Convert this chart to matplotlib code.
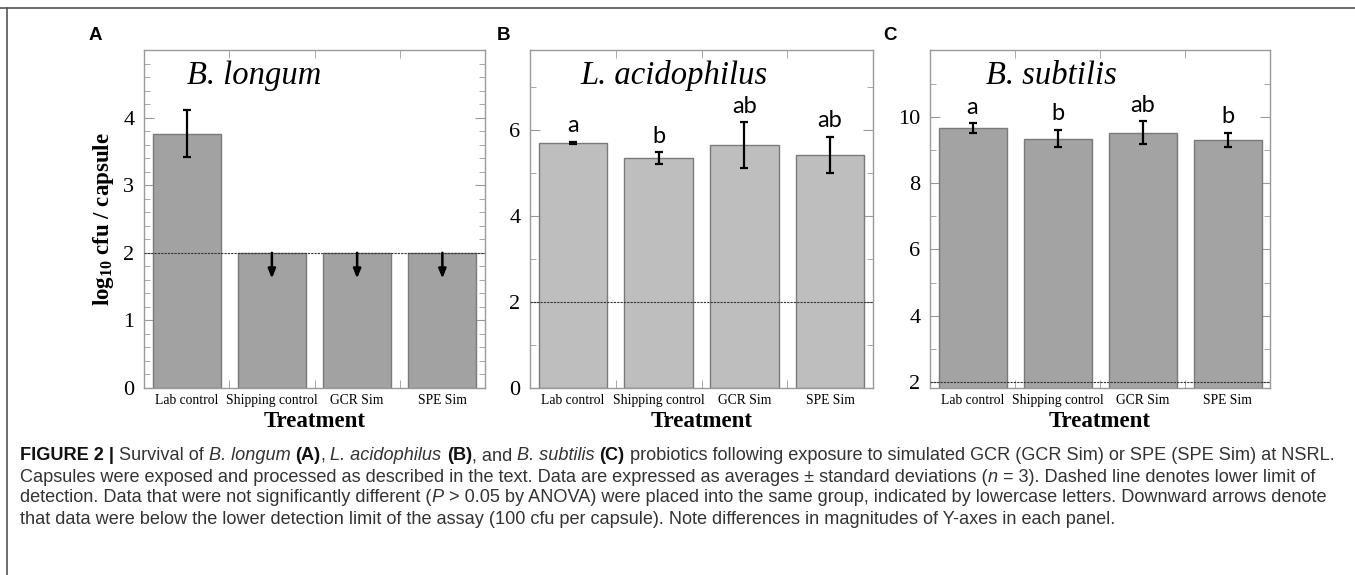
import matplotlib
matplotlib.use("Agg")
import matplotlib.pyplot as plt
from matplotlib.lines import Line2D
from matplotlib.ticker import FixedLocator

plt.rcParams["font.family"] = ["Liberation Serif", "DejaVu Serif"]
plt.rcParams["mathtext.fontset"] = "custom"
plt.rcParams["mathtext.rm"] = "Liberation Serif"
plt.rcParams["mathtext.bf"] = "Liberation Serif:bold"
plt.rcParams["mathtext.it"] = "Liberation Serif:italic"

# data
treatments = ["Lab control", "Shipping control", "GCR Sim", "SPE Sim"]
detect_limit = 2.0

longum_mean = [3.76, 2.0, 2.0, 2.0]
longum_sd = [0.35, 0.0, 0.0, 0.0]
longum_below = [False, True, True, True]
arrow_tip = 1.62

acid_mean = [5.70, 5.35, 5.65, 5.42]
acid_sd = [0.03, 0.13, 0.53, 0.42]
acid_letters = ["a", "b", "ab", "ab"]

subt_mean = [9.67, 9.34, 9.52, 9.30]
subt_sd = [0.14, 0.26, 0.35, 0.22]
subt_letters = ["a", "b", "ab", "b"]

W, H = 1355, 575
fig = plt.figure(figsize=(W / 100, H / 100), dpi=100)

spine_c = "#9a9a9a"


def setup_axes(ax, ylim, major, minor):
    ax.set_xlim(-0.5, 3.5)
    ax.set_ylim(*ylim)
    ax.set_xticks(range(len(treatments)))
    ax.set_xticklabels(treatments, fontsize=9.8)
    ax.xaxis.set_minor_locator(FixedLocator([0.5, 1.5, 2.5]))
    ax.yaxis.set_major_locator(FixedLocator(major))
    ax.yaxis.set_minor_locator(FixedLocator(minor))
    ax.tick_params(axis="x", which="major", length=0, pad=4)
    ax.tick_params(axis="x", which="minor", direction="in", length=6,
                   top=True, bottom=True, color=spine_c)
    ax.tick_params(axis="y", which="major", direction="in", length=7,
                   left=True, right=True, labelsize=16, pad=7, color=spine_c)
    ax.tick_params(axis="y", which="minor", direction="in", length=4,
                   left=True, right=True, color=spine_c)
    for s in ax.spines.values():
        s.set_color(spine_c)
        s.set_linewidth(1.0)
    ax.axhline(detect_limit, color="#333333", lw=0.8, ls=(0, (2, 1)), zorder=4)
    ax.set_xlabel("Treatment", fontsize=16.5, fontweight="bold", labelpad=3.5)


def draw_bars(ax, mean, sd, color):
    x = range(len(treatments))
    ax.bar(x, mean, width=0.8, color=color, edgecolor="#7a7a7a", lw=1.0, zorder=2)
    err = [(i, m, s) for i, (m, s) in enumerate(zip(mean, sd)) if s > 0]
    ax.errorbar([e[0] for e in err], [e[1] for e in err], yerr=[e[2] for e in err],
                fmt="none", ecolor="black", elinewidth=1.6, capsize=3.2,
                capthick=1.6, zorder=5)


def draw_letters(ax, mean, sd, letters):
    for i, (m, s, l) in enumerate(zip(mean, sd, letters)):
        ax.annotate(l, (i, m + s), xytext=(0, 7), textcoords="offset points",
                    ha="center", va="baseline", fontsize=17,
                    family=["Lato", "DejaVu Sans"], zorder=6)


def panel_title(ax, txt, x):
    ax.text(x, 0.925, txt, transform=ax.transAxes, fontsize=23.5,
            fontstyle="italic", ha="center", va="center")


# panel A
axA = fig.add_axes([144 / W, 1 - 388 / H, 341 / W, 338 / H])
setup_axes(axA, (0, 5), [0, 1, 2, 3, 4], [v / 5 for v in range(25)])
draw_bars(axA, longum_mean, longum_sd, "#a2a2a2")
for i, (m, b) in enumerate(zip(longum_mean, longum_below)):
    if b:
        axA.annotate("", xy=(i, arrow_tip), xytext=(i, m),
                     arrowprops=dict(arrowstyle="-|>,head_width=0.22,head_length=0.55",
                                     color="black", lw=1.8, shrinkA=0, shrinkB=0),
                     zorder=6)
panel_title(axA, "B. longum", 0.323)
axA.set_ylabel(r"$\mathbf{log_{10}}$ cfu / capsule", fontsize=16.5,
               fontweight="bold", labelpad=5)

# panel B
axB = fig.add_axes([530 / W, 1 - 388 / H, 343 / W, 338 / H])
setup_axes(axB, (0, 7.86), [0, 2, 4, 6], [1, 3, 5, 7])
draw_bars(axB, acid_mean, acid_sd, "#bebebe")
draw_letters(axB, acid_mean, acid_sd, acid_letters)
panel_title(axB, "L. acidophilus", 0.42)

# panel C
axC = fig.add_axes([930 / W, 1 - 388 / H, 340 / W, 338 / H])
setup_axes(axC, (1.82, 12.02), [2, 4, 6, 8, 10], [3, 5, 7, 9, 11])
draw_bars(axC, subt_mean, subt_sd, "#a3a3a3")
draw_letters(axC, subt_mean, subt_sd, subt_letters)
panel_title(axC, "B. subtilis", 0.358)

for lab, px in [("A", 95), ("B", 503), ("C", 890)]:
    fig.text(px / W, 1 - 35 / H, lab, fontsize=13.5, fontweight="bold",
             family=["Liberation Sans", "DejaVu Sans"], ha="center", va="center")

# outer frame (top and left edge)
fig.add_artist(Line2D([0, 1], [1 - 8 / H, 1 - 8 / H], transform=fig.transFigure,
                      color="#555555", lw=1.2))
fig.add_artist(Line2D([7 / W, 7 / W], [0, 1 - 8 / H], transform=fig.transFigure,
                      color="#555555", lw=1.2))

# caption
N, B, I = ("normal", "normal"), ("bold", "normal"), ("normal", "italic")
caption = [
    [("FIGURE 2 | ", B), ("Survival of ", N), ("B. longum", I), (" ", N), ("(A)", B),
     (", ", N), ("L. acidophilus", I), (" ", N), ("(B)", B), (", and ", N),
     ("B. subtilis", I), (" ", N), ("(C)", B),
     (" probiotics following exposure to simulated GCR (GCR Sim) or SPE (SPE Sim) at NSRL.", N)],
    [("Capsules were exposed and processed as described in the text. Data are expressed "
      "as averages \u00b1 standard deviations (", N), ("n", I),
     (" = 3). Dashed line denotes lower limit of", N)],
    [("detection. Data that were not significantly different (", N), ("P", I),
     (" > 0.05 by ANOVA) were placed into the same group, indicated by lowercase "
      "letters. Downward arrows denote", N)],
    [("that data were below the lower detection limit of the assay (100 cfu per "
      "capsule). Note differences in magnitudes of Y-axes in each panel.", N)],
]
cap_font = ["Liberation Sans", "DejaVu Sans"]
renderer = fig.canvas.get_renderer()


def run_width(txt, size, wt, st):
    t = fig.text(0, 0, txt + "|", fontsize=size, fontweight=wt, fontstyle=st,
                 family=cap_font)
    t2 = fig.text(0, 0, "|", fontsize=size, fontweight=wt, fontstyle=st,
                  family=cap_font)
    w = t.get_window_extent(renderer).width - t2.get_window_extent(renderer).width
    t.remove()
    t2.remove()
    return w


base = 10
w0 = sum(run_width(t, base, *s) for t, s in caption[0])
cap_size = base * 1318 / w0

for li, line in enumerate(caption):
    x = 20
    y = 456 + li * 21
    for txt, (wt, st) in line:
        col = "#111111" if wt == "bold" else "#333333"
        fig.text(x / W, 1 - y / H, txt, fontsize=cap_size, fontweight=wt,
                 fontstyle=st, family=cap_font, color=col, va="center")
        x += run_width(txt, cap_size, wt, st)

fig.savefig("out.png", dpi=100)
